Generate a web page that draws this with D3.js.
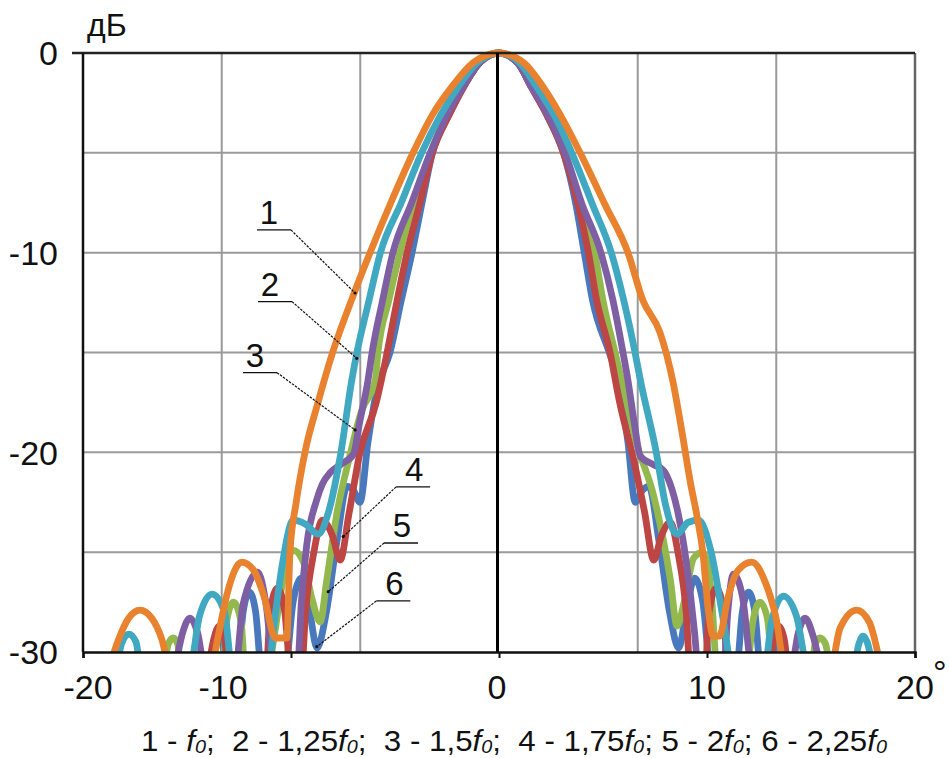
<!DOCTYPE html>
<html><head><meta charset="utf-8">
<script src="https://cdn.jsdelivr.net/npm/d3@7"></script>
<style>
html,body{margin:0;padding:0;background:#fff;}
svg{display:block;font-family:"Liberation Sans",Arial,sans-serif;}
</style></head>
<body>
<svg id="chart" width="949" height="758"></svg>
<script>
// ---- data (angle in degrees, level in dB) ----
const seriesNames = ["1","2","3","4","5","6"];
const seriesColors = ["#E8822F","#41A8C2","#7E5FA3","#BD4543","#93B84E","#4A78BC"];
const yTicks = [0,-10,-20,-30];
const xTicks = [-20,-10,0,10,20];
const xGrid = [-13.33,-6.67,6.67,13.33];
const yGrid = [-5,-10,-15,-20,-25];
const legendCoef = ["","1,25","1,5","1,75","2","2,25"];
const legendSep = [";  ",";  ",";  ","; ","; ",""];

const s1 = [[-18.8,-31],[-18.3,-29.4],[-17.8,-28.3],[-17.26,-27.9],[-16.7,-28.3],[-16.2,-29.4],[-15.8,-31],[-13.9,-31],[-13.5,-29.2],[-13.1,-27.2],[-12.37,-25.5],[-11.8,-25.9],[-11.3,-27.2],[-10.75,-29.3],[-10.2,-29.3],[-10.05,-25],[-9.75,-22.5],[-9.33,-20],[-8.7,-17.5],[-8.0,-15],[-7.1,-12.4],[-6.2,-10],[-5.2,-7.5],[-4.13,-5],[-3.2,-3.1],[-2.27,-1.7],[-1.2,-0.45],[0,0],
 [1.2,-0.5],[2.12,-1.7],[3.0,-3.2],[3.9,-5],[5.1,-7.6],[6.2,-10],[6.92,-12.4],[7.74,-14.0],[8.37,-16.5],[8.8,-19],[9.2,-21.5],[9.52,-23.2],[9.8,-25],[10.05,-27.8],[10.3,-29.2],[10.6,-29.2],[11.0,-27.3],[11.5,-25.9],[12.15,-25.5],[12.8,-26.5],[13.3,-28.2],[13.8,-31],[15.9,-31],[16.4,-28.8],[17.2,-27.9],[17.8,-28.5],[18.4,-31]];
const s2 = [[-18.4,-31],[-18.15,-29.6],[-17.8,-29.1],[-17.45,-29.5],[-17.2,-31],[-14.9,-31],[-14.4,-28.2],[-13.8,-27.1],[-13.2,-28],[-12.8,-31],[-11.1,-31],[-10.8,-28.5],[-10.4,-25.5],[-9.89,-23.4],[-9.3,-23.6],[-8.69,-24.1],[-8.2,-23],[-7.6,-20],[-7.08,-16.4],[-6.83,-15],[-6.25,-12.4],[-5.7,-10],[-4.7,-7.5],[-3.72,-5],[-2.8,-3.1],[-1.97,-1.7],[-1.0,-0.45],[0,0],
 [1.0,-0.5],[1.81,-1.7],[2.7,-3.2],[3.5,-5],[4.5,-7.6],[5.4,-10],[6.0,-12.4],[6.54,-15],[6.8,-16.4],[7.56,-20],[8.0,-22.6],[8.56,-24.1],[9.1,-23.5],[9.6,-23.4],[10.2,-25],[10.8,-28.5],[11.25,-31],[12.75,-31],[13.1,-28.5],[13.67,-27.2],[14.3,-28.2],[14.9,-31],[17.0,-31],[17.3,-29.6],[17.5,-29.2],[17.7,-29.5],[18.0,-31]];
const s3 = [[-15.6,-31],[-15.2,-29],[-14.86,-28.3],[-14.5,-29],[-14.1,-31],[-12.7,-31],[-12.3,-27.6],[-11.6,-26.0],[-11.2,-27.6],[-10.8,-31],[-9.7,-31],[-9.5,-27.5],[-9.25,-24.7],[-8.77,-22.4],[-8.5,-21.6],[-8.1,-21.0],[-7.6,-20.6],[-7.0,-20.1],[-6.7,-18.5],[-6.3,-16.4],[-6.1,-15],[-5.6,-12.4],[-5.1,-10],[-4.2,-7.5],[-3.3,-5],[-2.5,-3.1],[-1.73,-1.7],[-0.9,-0.45],[0,0],
 [0.9,-0.5],[1.57,-1.7],[2.4,-3.2],[3.17,-5],[4.0,-7.6],[4.9,-10],[5.48,-12.4],[5.96,-15],[6.2,-16.4],[6.5,-18.5],[6.8,-20.2],[7.4,-20.6],[7.9,-20.9],[8.3,-21.8],[8.64,-23.2],[9.12,-26.4],[9.4,-29],[9.6,-31],[10.8,-31],[11.0,-28],[11.27,-26.1],[11.7,-27.2],[12.2,-31],[14.0,-31],[14.4,-29],[14.71,-28.3],[15.1,-29.2],[15.5,-31]];
const s4 = [[-14.0,-31],[-13.7,-29.3],[-13.45,-28.7],[-13.2,-29.3],[-13.0,-31],[-11.2,-31],[-11.0,-28],[-10.65,-26.8],[-10.3,-28],[-10.0,-31],[-9.5,-31],[-9.3,-28],[-8.9,-25.0],[-8.5,-23.4],[-8.0,-24.2],[-7.64,-25.4],[-7.2,-23],[-6.68,-20],[-5.9,-17.5],[-5.38,-15],[-4.9,-12.4],[-4.42,-10],[-3.8,-7.5],[-3.2,-5],[-2.4,-3.1],[-1.7,-1.7],[-0.9,-0.45],[0,0],
 [0.9,-0.5],[1.55,-1.7],[2.35,-3.2],[3.1,-5],[3.8,-7.6],[4.3,-10],[4.7,-12.4],[5.34,-15],[5.8,-17.5],[6.5,-20.5],[7.0,-23],[7.44,-25.4],[7.8,-24.2],[8.24,-23.5],[8.6,-25.0],[9.0,-28],[9.2,-31],[9.9,-31],[10.1,-28],[10.45,-26.8],[10.8,-28],[11.0,-31],[13.0,-31],[13.2,-29.3],[13.45,-28.7],[13.7,-29.3],[13.9,-31]];
const s5 = [[-16.1,-31],[-15.9,-29.6],[-15.66,-29.3],[-15.45,-29.6],[-15.25,-31],[-13.3,-31],[-13.1,-28.5],[-12.77,-27.5],[-12.4,-28.5],[-12.2,-31],[-11.1,-31],[-10.85,-29.5],[-10.4,-26.5],[-9.9,-24.9],[-9.4,-25.5],[-9.0,-27.3],[-8.6,-28.5],[-8.28,-26.4],[-7.8,-23.1],[-7.2,-20.3],[-6.6,-17.9],[-5.95,-16.4],[-5.82,-15],[-5.3,-12.4],[-4.76,-10],[-4.1,-7.5],[-3.3,-5],[-2.5,-3.1],[-1.73,-1.7],[-0.9,-0.45],[0,0],
 [0.9,-0.5],[1.57,-1.7],[2.4,-3.2],[3.17,-5],[3.9,-7.6],[4.6,-10],[5.0,-12.4],[5.58,-15],[5.9,-16.4],[6.6,-19.5],[7.44,-22.2],[8.24,-26.4],[8.56,-28.7],[8.9,-27.5],[9.36,-25.3],[9.8,-25.0],[10.2,-27],[10.5,-31],[11.9,-31],[12.2,-28.5],[12.55,-27.5],[12.9,-28.3],[13.2,-31],[15.0,-31],[15.2,-29.6],[15.43,-29.3],[15.7,-29.6],[15.9,-31]];
const s6 = [[-13.9,-31],[-13.7,-29.6],[-13.5,-29.2],[-13.3,-29.5],[-13.1,-31],[-12.6,-31],[-12.3,-28],[-12.0,-27.0],[-11.7,-28],[-11.4,-31],[-10.3,-31],[-9.9,-27.5],[-9.5,-26.3],[-9.1,-28],[-8.75,-29.8],[-8.3,-28],[-7.8,-24.5],[-7.3,-21.7],[-7.0,-21.9],[-6.68,-22.5],[-6.3,-19.5],[-5.88,-16.9],[-5.24,-15],[-4.7,-12.4],[-4.18,-10],[-3.7,-7.5],[-3.2,-5],[-2.4,-3.1],[-1.7,-1.7],[-0.9,-0.45],[0,0],
 [0.9,-0.5],[1.55,-1.7],[2.35,-3.2],[3.1,-5],[3.7,-7.6],[4.1,-10],[4.5,-12.4],[5.3,-15],[5.75,-16.4],[6.2,-19.5],[6.55,-22.5],[6.9,-21.9],[7.2,-21.7],[7.7,-24.5],[8.2,-28],[8.64,-29.8],[9.0,-28],[9.4,-26.3],[9.8,-27.5],[10.2,-31],[11.4,-31],[11.7,-28],[12.0,-27.0],[12.3,-28],[12.6,-31],[13.1,-31],[13.3,-29.5],[13.5,-29.2],[13.7,-29.6],[13.9,-31]];
const seriesData = [s1,s2,s3,s4,s5,s6];

// leader-line callouts: underline centre [angle, dB] and target point [angle, dB]
const calloutLabel = [[-10.82,-8.86],[-10.77,-12.45],[-11.49,-16.01],[-4.13,-21.73],[-4.71,-24.54],[-5.08,-27.44]];
const calloutTarget = [[-6.92,-12.02],[-6.84,-15.29],[-6.92,-18.88],[-7.49,-24.22],[-8.21,-26.98],[-8.76,-29.73]];
const calloutSide = ["right","right","right","left","left","left"];

// ---- drawing ----
const svg = d3.select("#chart");
const x = d3.scaleLinear().domain([-20,20]).range([83,915]);
const y = d3.scaleLinear().domain([-30,0]).range([652,53]);

svg.append("defs").append("clipPath").attr("id","plotclip")
  .append("rect").attr("x",x(-20)).attr("y",y(0)-4).attr("width",x(20)-x(-20)).attr("height",y(-30)-y(0)+4);

// grid
svg.append("g").selectAll("line").data(yGrid).join("line")
  .attr("x1",x(-20)).attr("x2",x(20)).attr("y1",d=>y(d)).attr("y2",d=>y(d))
  .attr("stroke","#9a9a9a").attr("stroke-width",2);
svg.append("g").selectAll("line").data(xGrid).join("line")
  .attr("x1",d=>x(d)).attr("x2",d=>x(d)).attr("y1",y(0)).attr("y2",y(-30))
  .attr("stroke","#9a9a9a").attr("stroke-width",2);
svg.append("line").attr("x1",x(20)).attr("x2",x(20)).attr("y1",y(0)).attr("y2",y(-30)).attr("stroke","#666").attr("stroke-width",2.5);

// curves
const line = d3.line().x(d=>x(d[0])).y(d=>y(d[1])).curve(d3.curveMonotoneX);
const drawOrder = [5,4,3,2,1,0];
const gl = svg.append("g").attr("clip-path","url(#plotclip)");
drawOrder.forEach(i=>{
  gl.append("path").datum(seriesData[i]).attr("d",line)
    .attr("fill","none").attr("stroke",seriesColors[i]).attr("stroke-width",6.8)
    .attr("stroke-linejoin","round").attr("stroke-linecap","round");
});

// axes
svg.append("line").attr("x1",72).attr("x2",x(20)).attr("y1",y(0)).attr("y2",y(0)).attr("stroke","#222").attr("stroke-width",2.5);
svg.append("line").attr("x1",x(-20)).attr("x2",x(-20)).attr("y1",y(0)).attr("y2",y(-30)).attr("stroke","#111").attr("stroke-width",2.5);
svg.append("line").attr("x1",x(0)-1.5).attr("x2",x(0)-1.5).attr("y1",y(0)).attr("y2",y(-30)).attr("stroke","#000").attr("stroke-width",3);
const xAxis = d3.axisBottom(x).tickValues(xTicks).tickSize(6).tickFormat("");
svg.append("g").attr("transform",`translate(0,${y(-30)})`).call(xAxis)
  .call(g=>g.select(".domain").attr("stroke","#111").attr("stroke-width",2.5))
  .call(g=>g.selectAll(".tick line").attr("stroke","#111").attr("stroke-width",2));

// y labels
svg.append("g").selectAll("text").data(yTicks).join("text")
  .attr("x",58).attr("y",d=>y(d)).attr("dy","0.36em").attr("text-anchor","end")
  .attr("font-size",34).attr("fill","#111").text(d=>String(d));
svg.append("text").attr("x",87).attr("y",36).attr("font-size",32).attr("fill","#111").text("дБ");

// x labels (placed as in the original figure)
const xLabelShift = {"-20":5,"-10":-68,"0":-2,"10":0,"20":0};
svg.append("g").selectAll("text").data(xTicks).join("text")
  .attr("x",d=>x(d)+xLabelShift[d]).attr("y",699).attr("text-anchor","middle")
  .attr("font-size",34).attr("fill","#111").text(d=>String(d));
svg.append("text").attr("x",933).attr("y",684).attr("font-size",34).attr("fill","#111").text("°");

// callouts
const cg = svg.append("g");
const uw = 34;
calloutLabel.forEach((p,i)=>{
  const lx = x(p[0]), ly = y(p[1]);
  const tx = x(calloutTarget[i][0]), ty = y(calloutTarget[i][1]);
  const ux1 = lx-uw/2, ux2 = lx+uw/2;
  cg.append("line").attr("x1",ux1).attr("x2",ux2).attr("y1",ly).attr("y2",ly).attr("stroke","#111").attr("stroke-width",1.3);
  const right = calloutSide[i]==="right";
  const sx = right?ux2:ux1;
  cg.append("line").attr("x1",sx).attr("y1",ly).attr("x2",tx).attr("y2",ty).attr("stroke","#111").attr("stroke-width",1.2).attr("stroke-dasharray","2.5,1.2");
  cg.append("circle").attr("cx",tx).attr("cy",ty).attr("r",1.6).attr("fill","#111");
  cg.append("text").attr("x",lx+(right?-5:1)).attr("y",ly-5.5).attr("text-anchor","middle").attr("font-size",33).attr("fill","#111").text(seriesNames[i]);
});

// legend
const lt = svg.append("text").attr("x",141).attr("y",751).attr("font-size",30).attr("fill","#111")
  .attr("textLength",746).attr("lengthAdjust","spacingAndGlyphs").style("white-space","pre");
seriesNames.forEach((n,i)=>{
  lt.append("tspan").text(n+" - "+legendCoef[i]);
  lt.append("tspan").attr("font-style","italic").text("f");
  lt.append("tspan").attr("font-style","italic").attr("font-size",19).attr("dy",2).text("0");
  lt.append("tspan").attr("dy",-2).text(legendSep[i]);
});
</script>
</body></html>
